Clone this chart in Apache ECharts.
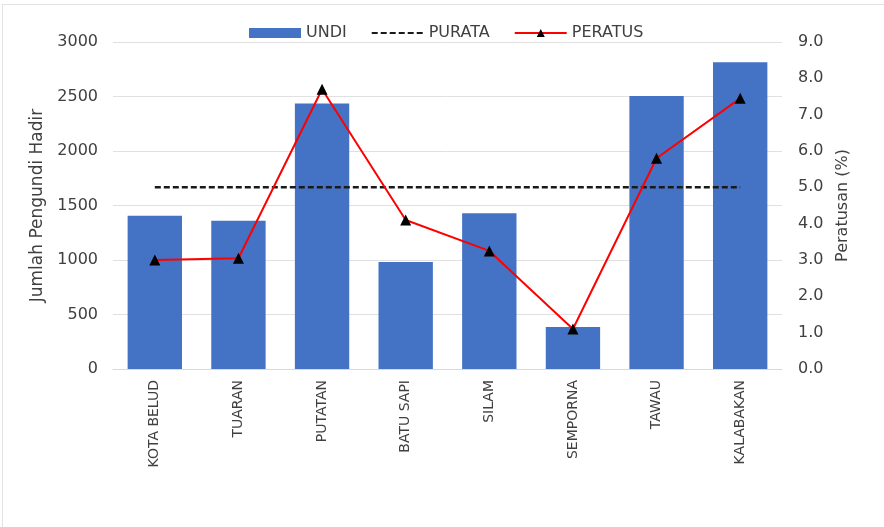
<!DOCTYPE html>
<html>
<head>
<meta charset="utf-8">
<script src="https://cdn.jsdelivr.net/npm/echarts@6/dist/echarts.min.js"></script>
<style>
  html, body { margin: 0; padding: 0; background: #fff; }
  #chart {
    width: 882px; height: 523px;
    margin-left: 2px; margin-top: 4px;
    border-left: 1px solid #e3e3e3;
    border-top: 1px solid #e3e3e3;
  }
</style>
</head>
<body>
<div id="chart"></div>
<script>
const categories = ['KOTA BELUD', 'TUARAN', 'PUTATAN', 'BATU SAPI', 'SILAM', 'SEMPORNA', 'TAWAU', 'KALABAKAN']
const undi = [1405, 1360, 2435, 982, 1430, 385, 2505, 2815]
const purata = [5.0, 5.0, 5.0, 5.0, 5.0, 5.0, 5.0, 5.0]
const peratus = [3.0, 3.05, 7.7, 4.1, 3.25, 1.1, 5.8, 7.45]

const textColor = '#404040'
const fontFamily = 'DejaVu Sans, sans-serif'

const chart = echarts.init(document.getElementById('chart'))
chart.setOption({
  animation: false,
  textStyle: { fontFamily: fontFamily },
  legend: {
    top: 15,
    left: 241,
    itemGap: 24,
    itemWidth: 52,
    itemHeight: 10,
    textStyle: { color: textColor, fontSize: 16, fontFamily: fontFamily },
    data: [
      { name: 'UNDI', icon: 'rect' },
      { name: 'PURATA', itemStyle: { opacity: 0 } },
      { name: 'PERATUS' }
    ]
  },
  grid: { left: 110, right: 103, top: 37, bottom: 159 },
  xAxis: {
    type: 'category',
    data: categories,
    axisTick: { show: false },
    axisLine: { lineStyle: { color: '#d9d9d9' } },
    axisLabel: { rotate: 90, color: textColor, fontSize: 14, margin: 11, fontFamily: fontFamily }
  },
  yAxis: [
    {
      type: 'value',
      min: 0,
      max: 3000,
      interval: 500,
      name: 'Jumlah Pengundi Hadir',
      nameLocation: 'middle',
      nameGap: 60,
      nameRotate: 90,
      nameTextStyle: { color: textColor, fontSize: 17, fontFamily: fontFamily },
      axisLabel: { color: textColor, fontSize: 16, margin: 15, fontFamily: fontFamily, formatter: v => String(v) },
      splitLine: { lineStyle: { color: '#e0e0e0' } }
    },
    {
      type: 'value',
      min: 0,
      max: 9,
      interval: 1,
      name: 'Peratusan (%)',
      nameLocation: 'middle',
      nameGap: 53,
      nameRotate: 90,
      nameTextStyle: { color: textColor, fontSize: 16, fontFamily: fontFamily },
      axisLabel: { color: textColor, fontSize: 16, margin: 16, fontFamily: fontFamily, formatter: v => v.toFixed(1) },
      splitLine: { show: false }
    }
  ],
  series: [
    {
      name: 'UNDI',
      type: 'bar',
      data: undi,
      barWidth: '65%',
      itemStyle: { color: '#4472c4' }
    },
    {
      name: 'PURATA',
      type: 'line',
      yAxisIndex: 1,
      data: purata,
      symbol: 'none',
      lineStyle: { color: '#1a1a1a', width: 2.5, type: [6, 3] },
      itemStyle: { color: '#1a1a1a' }
    },
    {
      name: 'PERATUS',
      type: 'line',
      yAxisIndex: 1,
      data: peratus,
      symbol: 'triangle',
      symbolSize: 11,
      lineStyle: { color: '#ff0000', width: 2 },
      itemStyle: { color: '#000' }
    }
  ]
})
</script>
</body>
</html>
